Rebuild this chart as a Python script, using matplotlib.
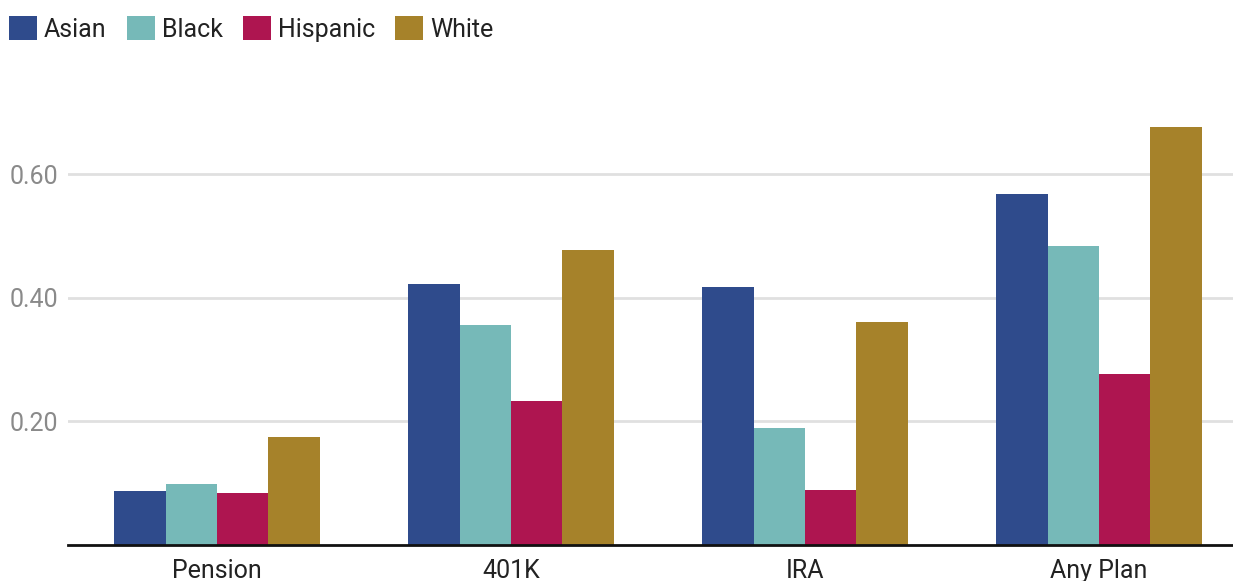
import matplotlib
matplotlib.use("Agg")
import matplotlib.pyplot as plt
import numpy as np

categories = ["Pension", "401K", "IRA", "Any Plan"]
series_names = ["Asian", "Black", "Hispanic", "White"]
asian = [0.087, 0.423, 0.418, 0.568]
black = [0.099, 0.356, 0.189, 0.484]
hispanic = [0.084, 0.233, 0.089, 0.277]
white = [0.175, 0.478, 0.361, 0.677]
yticks = [0.20, 0.40, 0.60]
ytick_labels = ["0.20", "0.40", "0.60"]

colors = ["#2f4b8c", "#76b9b8", "#ae1550", "#a6822a"]

plt.rcParams['font.family'] = ['Roboto', 'DejaVu Sans']

W, H = 1233, 581
fig = plt.figure(figsize=(W / 100, H / 100), dpi=100)
ax = fig.add_axes([68 / W, (H - 545) / H, (W - 68) / W, (545 - 100) / H])

x = np.arange(len(categories))
bw = 0.175
all_series = [asian, black, hispanic, white]
handles = []
for i, (vals, name, c) in enumerate(zip(all_series, series_names, colors)):
    h = ax.bar(x + (i - 1.5) * bw, vals, width=bw, color=c, label=name, zorder=3, linewidth=0)
    handles.append(h)

ax.set_xlim(-0.507, 3.456)
ax.set_ylim(0, 0.72)
ax.set_yticks(yticks)
ax.set_yticklabels(ytick_labels)
ax.set_xticks(x)
ax.set_xticklabels(categories)
ax.grid(axis='y', color='#e0e0e0', linewidth=2, zorder=0)
ax.tick_params(axis='y', length=0, pad=7, labelsize=18, labelcolor='#8a8a8a')
ax.tick_params(axis='x', length=0, pad=10, labelsize=18, labelcolor='#222222')
for s in ['top', 'right', 'left']:
    ax.spines[s].set_visible(False)
ax.spines['bottom'].set_color('#111111')
ax.spines['bottom'].set_linewidth(2)
ax.spines['bottom'].set_zorder(4)

fig.legend(handles=handles, labels=series_names, loc='upper left',
           bbox_to_anchor=(9 / W, 1 - 16 / H), frameon=False, ncol=4,
           fontsize=18, handlelength=1.12, handleheight=1.12,
           handletextpad=0.28, columnspacing=0.8, borderpad=0, borderaxespad=0,
           labelcolor='#222222')

fig.savefig("out.png", dpi=100)
